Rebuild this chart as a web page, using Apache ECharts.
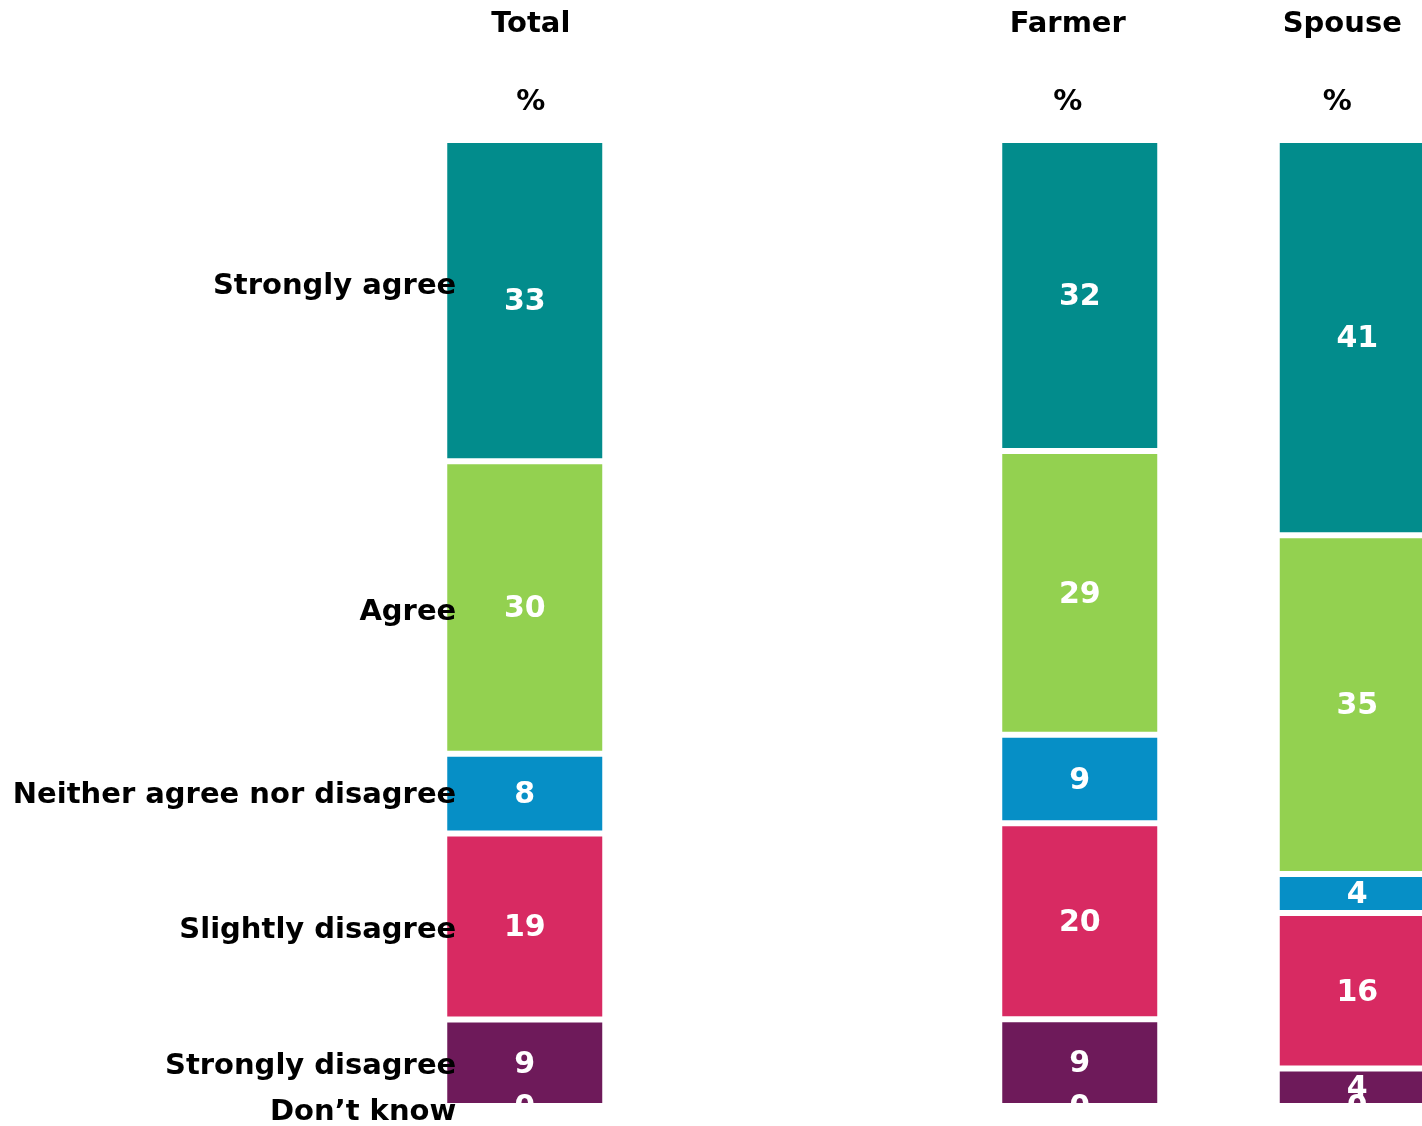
<!DOCTYPE html>
<html>
<head>
<meta charset="utf-8">
<script src="https://cdn.jsdelivr.net/npm/echarts@6/dist/echarts.min.js"></script>
<style>
  html, body { margin: 0; padding: 0; background: #fff; }
  #chart { width: 1422px; height: 1126px; }
</style>
</head>
<body>
<div id="chart"></div>
<script>
  // groups on the x axis, the empty one is just a spacer
  const groups = ['Total', '', 'Farmer', 'Spouse']
  const responses = ['Strongly agree', 'Agree', 'Neither agree nor disagree', 'Slightly disagree', 'Strongly disagree', 'Don’t know']
  // percentages (labels are rounded)
  const total = [33.25, 30.29, 8.25, 19.26, 8.95, 0]
  const farmer = [32.2, 29.36, 9.18, 20.28, 8.97, 0]
  const spouse = [40.92, 35.06, 4.05, 16.08, 3.89, 0]

  const colors = ['#028c8c', '#93d150', '#068fc6', '#d82a62', '#6e1a5a', '#6e1a5a']
  const nameOffsets = [-14, 5, 2, 4, 4, 6]
  const font = 'DejaVu Sans'

  const chart = echarts.init(document.getElementById('chart'))

  const valueSeries = responses.map((name, i) => ({
    name: name,
    type: 'bar',
    stack: 'values',
    barWidth: 161,
    barGap: '-100%',
    silent: true,
    data: [total[i], '-', farmer[i], spouse[i]],
    itemStyle: { color: colors[i], borderColor: '#fff', borderWidth: 3 },
    label: {
      show: true,
      position: 'inside',
      offset: [0, 2],
      color: '#fff',
      fontFamily: font,
      fontWeight: 'bold',
      fontSize: 30,
      formatter: p => Math.round(p.value)
    }
  }))

  // invisible copy of the Total bar, only used to put the response names beside it
  const nameSeries = responses.map((name, i) => ({
    name: name + ' label',
    type: 'bar',
    stack: 'names',
    barWidth: 161,
    barGap: '-100%',
    silent: true,
    data: [total[i], '-', '-', '-'],
    itemStyle: { color: 'rgba(0,0,0,0)' },
    label: {
      show: true,
      position: 'left',
      distance: -12,
      offset: [0, nameOffsets[i]],
      color: '#000',
      fontFamily: font,
      fontWeight: 'bold',
      fontSize: 29,
      formatter: () => name
    }
  }))

  const headStyle = { fontFamily: font, fontWeight: 'bold', fontSize: 29, color: '#000', lineHeight: 78 }

  chart.setOption({
    animation: false,
    grid: { left: 386, width: 1110, top: 140, bottom: 20, outerBoundsMode: 'none' },
    xAxis: {
      type: 'category',
      position: 'top',
      data: groups,
      axisLine: { show: false },
      axisTick: { show: false },
      axisLabel: {
        interval: 0,
        margin: -1,
        formatter: (v, idx) => v ? `{h${idx}|${v}}\n{p${idx}|%}` : '',
        rich: {
          h0: Object.assign({ padding: [0, 0, 0, 12] }, headStyle),
          p0: Object.assign({ padding: [0, 0, 0, 12] }, headStyle),
          h2: Object.assign({ padding: [0, 24, 0, 0] }, headStyle),
          p2: Object.assign({ padding: [0, 24, 0, 0] }, headStyle),
          h3: Object.assign({ padding: [0, 30, 0, 0] }, headStyle),
          p3: Object.assign({ padding: [0, 40, 0, 0] }, headStyle)
        }
      }
    },
    yAxis: {
      type: 'value',
      inverse: true,
      min: 0,
      max: 100,
      show: false
    },
    series: valueSeries.concat(nameSeries)
  })
</script>
</body>
</html>
